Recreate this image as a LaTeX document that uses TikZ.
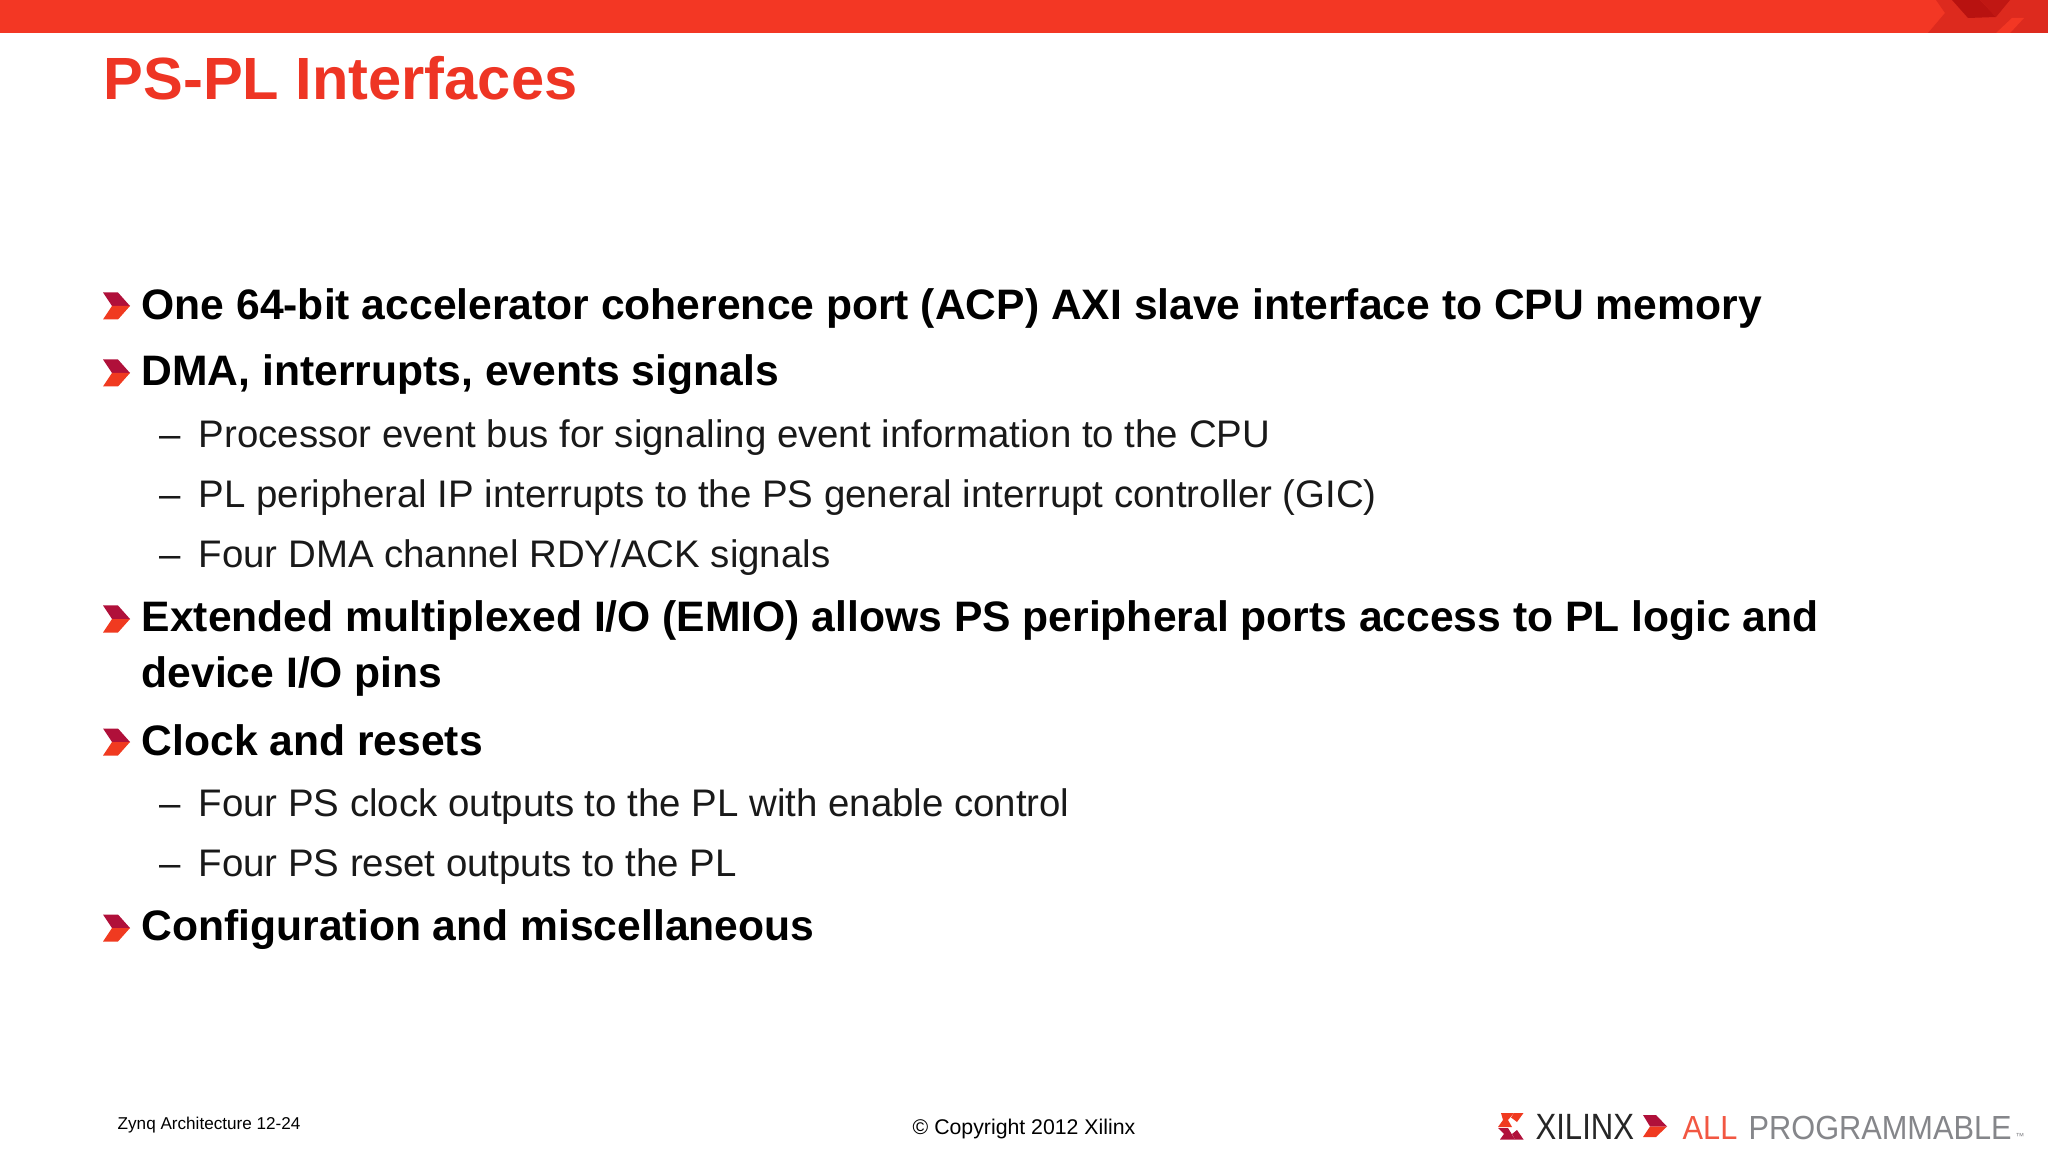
\documentclass[tikz,border=0pt]{standalone}
\usepackage{fontspec}
\setmainfont{Liberation Sans}
\usepackage{tikz}

\definecolor{barred}{HTML}{F33724}
\definecolor{bardark}{HTML}{DD2A1E}
\definecolor{bardeep}{HTML}{B81210}
\definecolor{titlered}{HTML}{EE3524}
\definecolor{crimson}{HTML}{B0103A}
\definecolor{chevred}{HTML}{F03A20}
\definecolor{logogray}{HTML}{85868A}

\tikzset{
    title/.style={anchor=base west, text=titlered, font=\fontsize{16.95}{18}\selectfont\bfseries, inner sep=0pt},
    head/.style={anchor=base west, text=black, font=\fontsize{12.12}{14}\selectfont\bfseries, inner sep=0pt},
    sub/.style={anchor=base west, text=black!90, font=\fontsize{10.92}{13}\selectfont, inner sep=0pt},
    foot/.style={anchor=base west, text=black, inner sep=0pt},
    logotext/.style={anchor=base west, inner sep=0pt, transform shape}
}

\begin{document}
\begin{tikzpicture}[x=0.01cm, y=-0.01cm]
    \useasboundingbox (0, 0) rectangle (2048, 1152);

    % top bar
    \fill[barred] (0, 0) rectangle (2048, 33);
    \fill[bardark] (1936, 0) -- (2048, 0) -- (2048, 33) -- (1928, 33) -- (1945, 13) -- cycle;
    \fill[bardeep] (1952, 0) -- (1980, 0) -- (1996, 17) -- (1968, 18) -- cycle;
    \fill[bardeep!80!bardark] (1980, 0) -- (2010, 0) -- (1996, 17) -- cycle;
    \fill[barred] (1996, 33) -- (2012, 18) -- (2024, 18) -- (2010, 33) -- cycle;

    \node[title] (title) at (103, 99.5) {PS-PL Interfaces};

    % bullet list
    \node[head] (acp) at (141, 319.6) {One 64-bit accelerator coherence port (ACP) AXI slave interface to CPU memory};
    \node[head] (dma) at (141, 386) {DMA, interrupts, events signals};
    \node[sub] (dash1) at (159, 447.2) {--};
    \node[sub] (event) at (198, 447.2) {Processor event bus for signaling event information to the CPU};
    \node[sub] (dash2) at (159, 507.2) {--};
    \node[sub] (gic) at (198, 507.2) {PL peripheral IP interrupts to the PS general interrupt controller (GIC)};
    \node[sub] (dash3) at (159, 567.2) {--};
    \node[sub] (rdy) at (198, 567.2) {Four DMA channel RDY/ACK signals};
    \node[head] (emio) at (141, 631.3) {Extended multiplexed I/O (EMIO) allows PS peripheral ports access to PL logic and};
    \node[head] (pins) at (141, 687.6) {device I/O pins};
    \node[head] (clock) at (141, 755) {Clock and resets};
    \node[sub] (dash4) at (159, 816.3) {--};
    \node[sub] (clkout) at (198, 816.3) {Four PS clock outputs to the PL with enable control};
    \node[sub] (dash5) at (159, 876.3) {--};
    \node[sub] (rstout) at (198, 876.3) {Four PS reset outputs to the PL};
    \node[head] (config) at (141, 940.8) {Configuration and miscellaneous};

    % chevrons
    \foreach \y in {306, 373, 619, 742, 928} {
        \fill[crimson] (103, \y-13.5) -- (118, \y-13.5) -- (130, \y) -- (112, \y) -- cycle;
        \fill[chevred] (112, \y) -- (130, \y) -- (118, \y+13.5) -- (103, \y+13.5) -- cycle;
    }

    % footer
    \node[foot, font=\fontsize{4.87}{6}\selectfont] (chapter) at (117, 1129) {Zynq Architecture 12-24};
    \node[foot, font=\fontsize{6.05}{7}\selectfont] (copyright) at (912, 1134.5) {© Copyright 2012 Xilinx};

    % logo
    \fill[chevred] (1501, 1113) -- (1514, 1113) -- (1508, 1120) -- (1512, 1127) -- (1498, 1127) -- (1503, 1120) -- cycle;
    \fill[crimson] (1498, 1128) -- (1508, 1128) -- (1515, 1139.5) -- (1500, 1139.5) -- (1504, 1134) -- cycle;
    \fill[chevred] (1514, 1113) -- (1523.5, 1113) -- (1517, 1122) -- (1511, 1117.5) -- cycle;
    \fill[crimson] (1512, 1134) -- (1517, 1130) -- (1523.5, 1139.5) -- (1515, 1139.5) -- cycle;
    \node[logotext, xscale=0.85, text=black!85, font=\fontsize{10.4}{12}\selectfont] (xilinx) at (1535, 1139.5) {XILINX};
    \fill[crimson] (1643, 1115) -- (1656, 1115) -- (1667, 1126.5) -- (1650, 1126.5) -- cycle;
    \fill[chevred] (1650, 1126.5) -- (1667, 1126.5) -- (1656, 1137) -- (1643, 1137) -- cycle;
    \node[logotext, xscale=0.92, text=chevred!85!white, font=\fontsize{9.5}{11}\selectfont] (all) at (1682, 1139) {ALL};
    \node[logotext, xscale=0.92, text=logogray, font=\fontsize{9.5}{11}\selectfont] (programmable) at (1748, 1139) {PROGRAMMABLE};
    \node[logotext, text=logogray, font=\fontsize{2.5}{3}\selectfont] (tm) at (2015, 1139) {™};
\end{tikzpicture}
\end{document}
